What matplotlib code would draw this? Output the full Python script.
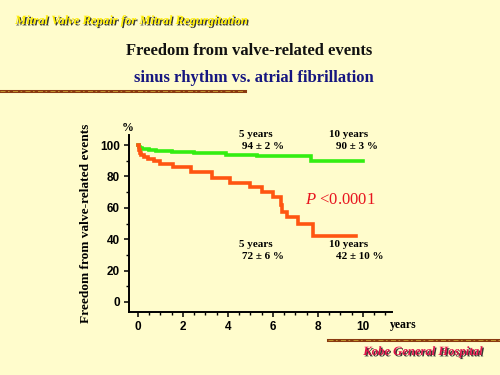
import matplotlib
matplotlib.use("Agg")
import matplotlib.pyplot as plt
import matplotlib.patheffects as pe
from matplotlib.lines import Line2D
from matplotlib.ticker import MultipleLocator

plt.rcParams["mathtext.fontset"] = "custom"
plt.rcParams["mathtext.it"] = "Liberation Serif:italic"
plt.rcParams["mathtext.rm"] = "Liberation Serif"

# ---- data ----
sr_years = [0, 0.05, 0.1, 0.2, 0.3, 0.5, 0.8, 1.0, 1.5, 1.9, 2.5, 3.9, 5.3, 7.7, 10.0]
sr_freedom = [100, 98.8, 98.2, 97.7, 97.3, 96.9, 96.5, 96.2, 95.8, 95.3, 94.8, 93.8, 92.8, 90, 90]

af_years = [0, 0.03, 0.08, 0.15, 0.25, 0.45, 0.7, 1.0, 1.55, 2.35, 3.3, 4.1, 5.0, 5.5,
            6.0, 6.35, 6.4, 6.65, 7.1, 7.8, 9.7]
af_freedom = [100, 97, 95, 93.5, 92.2, 91, 90, 88, 86, 83, 79, 76, 73, 70,
              67, 62, 57.5, 54, 50, 42, 42]

x_ticks = [0, 2, 4, 6, 8, 10]
y_ticks = [0, 20, 40, 60, 80, 100]

bg = "#FFFCCC"
serif = ["Liberation Serif", "DejaVu Serif"]
narrow = ["Liberation Sans Narrow", "Liberation Sans", "DejaVu Sans"]

fig = plt.figure(figsize=(5, 3.75), dpi=100, facecolor=bg)
ax = fig.add_axes([0.258, 0.168, 0.526, 0.472], facecolor=bg)

ax.step(sr_years, sr_freedom, where="post", color="#33EE11", lw=2.6, solid_joinstyle="miter")
ax.step(af_years, af_freedom, where="post", color="#FF5511", lw=2.6, solid_joinstyle="miter")

ax.set_xlim(-0.4, 11.3)
ax.set_ylim(-6.4, 106.4)
ax.set_xticks(x_ticks)
ax.set_yticks(y_ticks)
ax.xaxis.set_minor_locator(MultipleLocator(0.5))
ax.yaxis.set_minor_locator(MultipleLocator(10))
for s in ["top", "right"]:
    ax.spines[s].set_visible(False)
for s in ["left", "bottom"]:
    ax.spines[s].set_linewidth(1.4)
ax.tick_params(which="major", length=3.5, width=1.1, pad=3)
ax.tick_params(which="minor", length=2, width=1)
for lab in ax.get_xticklabels() + ax.get_yticklabels():
    lab.set_fontfamily(narrow)
    lab.set_fontweight("bold")
    lab.set_fontsize(8.5)

ax.set_ylabel("Freedom from valve-related events", fontfamily=serif, fontweight="bold",
              fontsize=9.6)
ax.yaxis.set_label_coords(-0.14, 0.5)

fig.text(128 / 500, 1 - 128 / 375, "%", fontfamily=serif, fontweight="bold", fontsize=8.5,
         ha="center", va="center")
fig.text(390 / 500, 1 - 325 / 375, "years", fontfamily=serif, fontweight="bold", fontsize=8.5,
         ha="left", va="center")

ann = dict(fontfamily=serif, fontweight="bold", fontsize=8, ha="center", va="center",
           clip_on=False)
ax.text(5.24, 107, "5 years", **ann)
ax.text(5.55, 99, "94 ± 2 %", **ann)
ax.text(9.38, 107, "10 years", **ann)
ax.text(9.73, 99, "90 ± 3 %", **ann)
ax.text(5.24, 36.3, "5 years", **ann)
ax.text(5.55, 28.9, "72 ± 6 %", **ann)
ax.text(9.38, 36.3, "10 years", **ann)
ax.text(9.87, 28.9, "42 ± 10 %", **ann)

ax.text(9.0, 65, r"$\it{P}$ <0.0001", fontfamily=serif, fontsize=12, color="#E8141E",
        ha="center", va="center")

fig.text(0.498, 1 - 51 / 375, "Freedom from valve-related events", fontfamily=serif,
         fontweight="bold", fontsize=12, ha="center", va="center", color="#111111")
fig.text(0.508, 1 - 78 / 375, "sinus rhythm vs. atrial fibrillation", fontfamily=serif,
         fontweight="bold", fontsize=12, ha="center", va="center", color="#161680")

shadow = [pe.SimplePatchShadow(offset=(1, -1), shadow_rgbFace="#222222", alpha=0.9), pe.Normal()]
fig.text(15 / 500, 1 - 21 / 375, "Mitral Valve Repair for Mitral Regurgitation", fontfamily=serif,
         fontweight="bold", style="italic", fontsize=9.1, color="#FFEE00", ha="left", va="center",
         path_effects=shadow)
fig.text(423 / 500, 1 - 352 / 375, "Kobe General Hospital", fontfamily=serif,
         fontweight="bold", style="italic", fontsize=9.1, color="#E0104A", ha="center", va="center",
         path_effects=shadow)

# decorative bars
fig.add_artist(Line2D([0, 245 / 500], [1 - 91 / 375] * 2, transform=fig.transFigure,
                      color="#8A3A10", lw=2.2))
fig.add_artist(Line2D([0, 245 / 500], [1 - 91 / 375] * 2, transform=fig.transFigure,
                      color="#C8A030", lw=0.6, ls=(0, (6, 3, 2, 4))))
fig.add_artist(Line2D([328 / 500, 1], [1 - 340 / 375] * 2, transform=fig.transFigure,
                      color="#8A3A10", lw=2.2))
fig.add_artist(Line2D([328 / 500, 1], [1 - 340 / 375] * 2, transform=fig.transFigure,
                      color="#C8A030", lw=0.6, ls=(0, (6, 3, 2, 4))))

fig.savefig("out.png", dpi=100, facecolor=bg)
